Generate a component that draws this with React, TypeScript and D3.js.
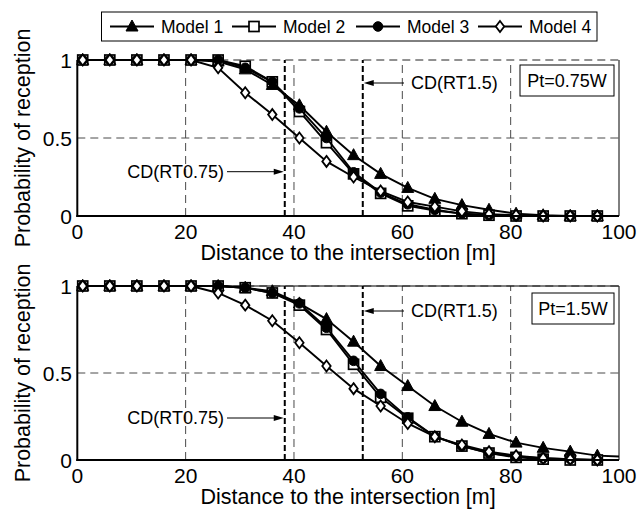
import React from "react";
import * as d3 from "d3";

const distances = [1, 6, 11, 16, 21, 26, 31, 36, 41, 46, 51, 56, 61, 66, 71, 76, 81, 86, 91, 96, 100];
const seriesNames = ["Model 1", "Model 2", "Model 3", "Model 4"];
const markerTypes = ["triangle", "square", "circle", "diamond"];

const top_m1 = [1, 1, 1, 1, 1, 0.99, 0.94, 0.84, 0.71, 0.54, 0.39, 0.27, 0.18, 0.11, 0.07, 0.04, 0.015, 0.005, 0, 0, 0];
const top_m2 = [1, 1, 1, 1, 1, 1, 0.96, 0.86, 0.67, 0.47, 0.27, 0.145, 0.065, 0.035, 0.015, 0.005, 0, 0, 0, 0, 0];
const top_m3 = [1, 1, 1, 1, 1, 1, 0.95, 0.86, 0.69, 0.5, 0.28, 0.15, 0.075, 0.04, 0.015, 0.005, 0, 0, 0, 0, 0];
const top_m4 = [1, 1, 1, 1, 1, 0.95, 0.79, 0.65, 0.5, 0.35, 0.25, 0.16, 0.09, 0.06, 0.03, 0.012, 0.005, 0, 0, 0, 0];

const bot_m1 = [1, 1, 1, 1, 1, 1, 0.99, 0.97, 0.9, 0.81, 0.68, 0.54, 0.425, 0.31, 0.22, 0.15, 0.1, 0.07, 0.048, 0.025, 0.02];
const bot_m2 = [1, 1, 1, 1, 1, 1, 0.99, 0.96, 0.89, 0.75, 0.55, 0.36, 0.24, 0.134, 0.08, 0.04, 0.015, 0.005, 0, 0, 0];
const bot_m3 = [1, 1, 1, 1, 1, 1, 0.99, 0.96, 0.9, 0.76, 0.57, 0.38, 0.245, 0.135, 0.08, 0.04, 0.02, 0.01, 0.005, 0, 0];
const bot_m4 = [1, 1, 1, 1, 1, 0.96, 0.89, 0.8, 0.674, 0.54, 0.41, 0.31, 0.21, 0.134, 0.086, 0.048, 0.025, 0.01, 0.005, 0, 0];

const xTicks = [0, 20, 40, 60, 80, 100];
const yTicks = [0, 0.5, 1];
const yTickLabels = ["0", "0.5", "1"];
const xGrid = [20, 40, 60, 80];
const yGrid = [0.5, 1];
const cdLines = [38.3, 52.7];
const cdLabels = ["CD(RT0.75)", "CD(RT1.5)"];
const powerLabels = ["Pt=0.75W", "Pt=1.5W"];
const xLabel = "Distance to the intersection [m]";
const yLabel = "Probability of reception";

const FONT = "'Liberation Sans', Arial, Helvetica, sans-serif";

function Marker({ type, x, y }: { type: string; x: number; y: number }) {
  if (type === "triangle") {
    const p = `${x},${y - 6.5} ${x - 6},${y + 4.5} ${x + 6},${y + 4.5}`;
    return <polygon points={p} fill="#000" stroke="#000" strokeWidth={1} />;
  }
  if (type === "square") {
    return <rect x={x - 5} y={y - 5} width={10} height={10} fill="#fff" stroke="#000" strokeWidth={1.7} />;
  }
  if (type === "circle") {
    return <circle cx={x} cy={y} r={4.8} fill="#000" stroke="#000" strokeWidth={1} />;
  }
  const p = `${x},${y - 5.5} ${x + 4.2},${y} ${x},${y + 5.5} ${x - 4.2},${y}`;
  return <polygon points={p} fill="#fff" stroke="#000" strokeWidth={1.8} />;
}

function Panel({
  yTop, yBottom, series, power, dashedTop, cdY1, cdY2, boxY,
}: {
  yTop: number; yBottom: number; series: number[][]; power: string; dashedTop: boolean;
  cdY1: number; cdY2: number; boxY: number;
}) {
  const x = d3.scaleLinear().domain([0, 100]).range([77.3, 619]);
  const y = d3.scaleLinear().domain([0, 1]).range([yBottom, yTop]);
  const line = d3.line<[number, number]>().x((d) => x(d[0])).y((d) => y(d[1]));
  const gridStyle = { stroke: "#4a4a4a", strokeWidth: 1, strokeDasharray: "8,5" };
  const cdX1 = x(cdLines[0]);
  const cdX2 = x(cdLines[1]);
  return (
    <g>
      {xGrid.map((g) => (
        <line key={"xg" + g} x1={x(g)} x2={x(g)} y1={y(0)} y2={y(1)} {...gridStyle} />
      ))}
      {yGrid.map((g) => (
        <line key={"yg" + g} x1={x(0)} x2={x(100)} y1={y(g)} y2={y(g)} {...gridStyle}
          stroke={g === 1 && dashedTop ? "#222" : "#4a4a4a"} />
      ))}
      {!dashedTop && <line x1={x(0)} x2={x(100)} y1={y(1)} y2={y(1)} stroke="#000" strokeWidth={1} />}
      <line x1={x(100)} x2={x(100)} y1={y(0)} y2={y(1)} stroke="#000" strokeWidth={1} />
      {cdLines.map((c) => (
        <line key={"cd" + c} x1={x(c)} x2={x(c)} y1={y(0)} y2={y(1)} stroke="#000" strokeWidth={2} strokeDasharray="6,3" />
      ))}
      {/* annotations */}
      <text x={224} y={cdY1} fontSize={18} fontFamily={FONT} textAnchor="end" dominantBaseline="central">{cdLabels[0]}</text>
      <line x1={227} x2={cdX1 - 9} y1={cdY1} y2={cdY1} stroke="#000" strokeWidth={1} />
      <polygon points={`${cdX1 - 1},${cdY1} ${cdX1 - 11},${cdY1 - 3} ${cdX1 - 11},${cdY1 + 3}`} fill="#000" />
      <text x={411} y={cdY2} fontSize={18} fontFamily={FONT} textAnchor="start" dominantBaseline="central">{cdLabels[1]}</text>
      <line x1={404} x2={cdX2 + 9} y1={cdY2} y2={cdY2} stroke="#000" strokeWidth={1} />
      <polygon points={`${cdX2 + 1},${cdY2} ${cdX2 + 11},${cdY2 - 3} ${cdX2 + 11},${cdY2 + 3}`} fill="#000" />
      {/* power box */}
      {(() => {
        const w = power.length > 7 ? 94 : 82;
        const bx = 614 - w;
        return (
          <g>
            <rect x={bx} y={boxY} width={w} height={31} fill="#fff" stroke="#000" strokeWidth={1} />
            <text x={bx + w / 2} y={boxY + 16} fontSize={18} fontFamily={FONT} textAnchor="middle" dominantBaseline="central">{power}</text>
          </g>
        );
      })()}
      {/* series */}
      {series.map((vals, si) => {
        const pts: [number, number][] = distances.map((d, i) => [d, vals[i]]);
        return (
          <g key={"s" + si}>
            <path d={line(pts) || ""} fill="none" stroke="#000" strokeWidth={1.9} />
            {pts.filter((p) => p[0] % 5 === 1).map((p, i) => (
              <Marker key={i} type={markerTypes[si]} x={x(p[0])} y={y(p[1])} />
            ))}
          </g>
        );
      })}
      {/* axes */}
      <line x1={x(0)} x2={x(0)} y1={y(0) + 1} y2={y(1)} stroke="#000" strokeWidth={2} />
      <line x1={x(0) - 1} x2={x(100)} y1={y(0)} y2={y(0)} stroke="#000" strokeWidth={2} />
      {xTicks.map((t) => (
        <text key={"xt" + t} x={x(t)} y={y(0) + 23} fontSize={21} fontFamily={FONT} textAnchor="middle">{t}</text>
      ))}
      {yTicks.map((t, i) => (
        <text key={"yt" + t} x={72} y={y(t)} fontSize={21} fontFamily={FONT} textAnchor="end" dominantBaseline="central">{yTickLabels[i]}</text>
      ))}
      <text x={(x(0) + x(100)) / 2} y={y(0) + 44} fontSize={21.5} fontFamily={FONT} textAnchor="middle">{xLabel}</text>
      <text transform={`translate(30,${(y(0) + y(1)) / 2}) rotate(-90)`} fontSize={21.5} fontFamily={FONT} textAnchor="middle">{yLabel}</text>
    </g>
  );
}

export default function App() {
  const legendX = [161, 283, 407, 529];
  const ly = 26.5;
  return (
    <svg width={639} height={515} style={{ position: "absolute", left: 0, top: 0, background: "#fff" }}>
      <rect x={0} y={0} width={639} height={515} fill="#fff" />
      <Panel yTop={60} yBottom={216} series={[top_m1, top_m2, top_m3, top_m4]} power={powerLabels[0]} dashedTop={true}
        cdY1={171.7} cdY2={83} boxY={65} />
      <Panel yTop={286} yBottom={460} series={[bot_m1, bot_m2, bot_m3, bot_m4]} power={powerLabels[1]} dashedTop={false}
        cdY1={418} cdY2={311} boxY={293} />
      {/* legend */}
      <rect x={101.5} y={12} width={495.5} height={29} fill="#fff" stroke="#000" strokeWidth={1} />
      {seriesNames.map((n, i) => (
        <g key={n}>
          <line x1={legendX[i] - 51} x2={legendX[i] - 7} y1={ly} y2={ly} stroke="#000" strokeWidth={1.9} />
          <Marker type={markerTypes[i]} x={legendX[i] - 29} y={ly} />
          <text x={legendX[i]} y={ly} fontSize={17.5} fontFamily={FONT} dominantBaseline="central">{n}</text>
        </g>
      ))}
    </svg>
  );
}
